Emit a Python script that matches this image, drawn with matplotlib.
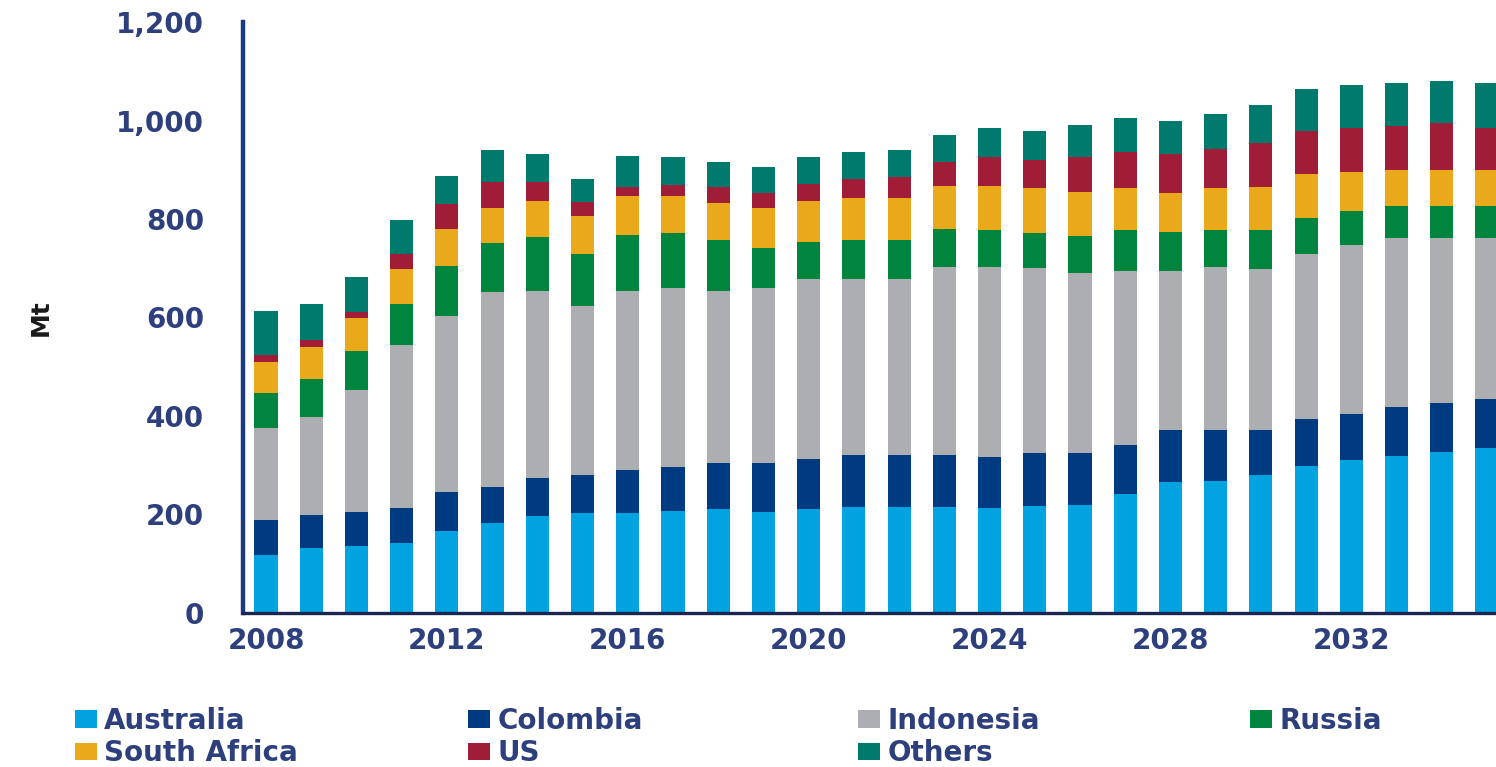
import matplotlib.pyplot as plt
from matplotlib.patches import Patch
from matplotlib.ticker import FuncFormatter, MultipleLocator
import numpy as np

years = list(range(2008, 2036))

# thermal coal exports by country, Mt
australia = [118, 132, 136, 142, 166, 183, 197, 203, 203, 207, 211, 206, 211, 216,
             215, 215, 213, 217, 219, 242, 266, 269, 280, 298, 311, 319, 327, 334]
colombia = [71, 67, 69, 71, 80, 73, 77, 77, 87, 89, 93, 99, 101, 105,
            106, 106, 104, 107, 105, 99, 106, 103, 92, 96, 94, 99, 100, 100]
indonesia = [187, 199, 248, 331, 357, 396, 380, 343, 364, 363, 350, 354, 366, 357,
             357, 382, 386, 376, 366, 353, 322, 330, 327, 334, 342, 344, 335, 328]
russia = [71, 77, 79, 83, 102, 99, 109, 105, 113, 113, 103, 82, 76, 79,
          79, 76, 75, 72, 75, 83, 79, 76, 79, 74, 69, 64, 64, 64]
south_africa = [63, 65, 67, 71, 75, 71, 74, 78, 80, 75, 75, 81, 83, 85,
                85, 88, 89, 90, 90, 85, 80, 84, 87, 89, 80, 74, 74, 74]
us = [14, 14, 12, 31, 50, 53, 39, 29, 19, 22, 32, 30, 34, 39,
      44, 49, 58, 58, 70, 74, 78, 81, 90, 88, 89, 89, 94, 85]
others = [89, 73, 71, 69, 57, 65, 55, 46, 61, 56, 52, 54, 54, 56,
          54, 55, 59, 59, 66, 69, 67, 71, 77, 84, 87, 88, 87, 92]

series = [
    ("Australia", australia, "#00a3e0"),
    ("Colombia", colombia, "#003a80"),
    ("Indonesia", indonesia, "#adaeb2"),
    ("Russia", russia, "#00853f"),
    ("South Africa", south_africa, "#e9a91a"),
    ("US", us, "#a01c37"),
    ("Others", others, "#007a6d"),
]

navy = "#2d3f7c"

fig = plt.figure(figsize=(14.96, 7.67), dpi=100)
ax = fig.add_axes([0.1624, 0.2008, 0.8376, 0.7705])

x = np.arange(len(years))
bottom = np.zeros(len(years))
for name, vals, color in series:
    ax.bar(x, vals, width=0.51, bottom=bottom, color=color, linewidth=0)
    bottom += np.array(vals)

ax.set_xlim(-0.51, 27.2)
ax.set_ylim(0, 1200)
ax.yaxis.set_major_locator(MultipleLocator(200))
ax.yaxis.set_major_formatter(FuncFormatter(lambda v, p: f"{int(v):,}"))
ax.set_xticks(x[::4])
ax.set_xticklabels([str(y) for y in years[::4]])

for s in ["top", "right"]:
    ax.spines[s].set_visible(False)
ax.spines["left"].set_color("#1c3a80")
ax.spines["left"].set_linewidth(3.2)
ax.spines["bottom"].set_color("#1a2550")
ax.spines["bottom"].set_linewidth(2.4)

ax.tick_params(axis="y", length=0, pad=28, labelsize=20, labelcolor=navy)
ax.tick_params(axis="x", length=0, pad=10, labelsize=20, labelcolor=navy)
for lab in ax.get_xticklabels() + ax.get_yticklabels():
    lab.set_fontweight("bold")

fig.text(0.027, 1 - 318 / 767, "Mt", rotation=90, ha="center", va="center",
         fontsize=18, fontweight="bold", color="#1a1a1a")

# legend laid out in four columns, row-wise order
col_x = [75, 468, 858, 1250]
rows = [series[:4], series[4:]]
for i, cx in enumerate(col_x):
    handles = []
    for row in rows:
        if i < len(row):
            name, _, color = row[i]
            handles.append(Patch(facecolor=color, label=name))
    leg = fig.legend(handles=handles, loc="upper left",
                     bbox_to_anchor=(cx / 1496, 1 - 707 / 767),
                     frameon=False, borderpad=0, borderaxespad=0,
                     handlelength=0.8, handleheight=0.6, handletextpad=0.25,
                     labelspacing=0.15, prop={"size": 20, "weight": "bold"})
    for t in leg.get_texts():
        t.set_color(navy)

fig.savefig("out.png", dpi=100)
